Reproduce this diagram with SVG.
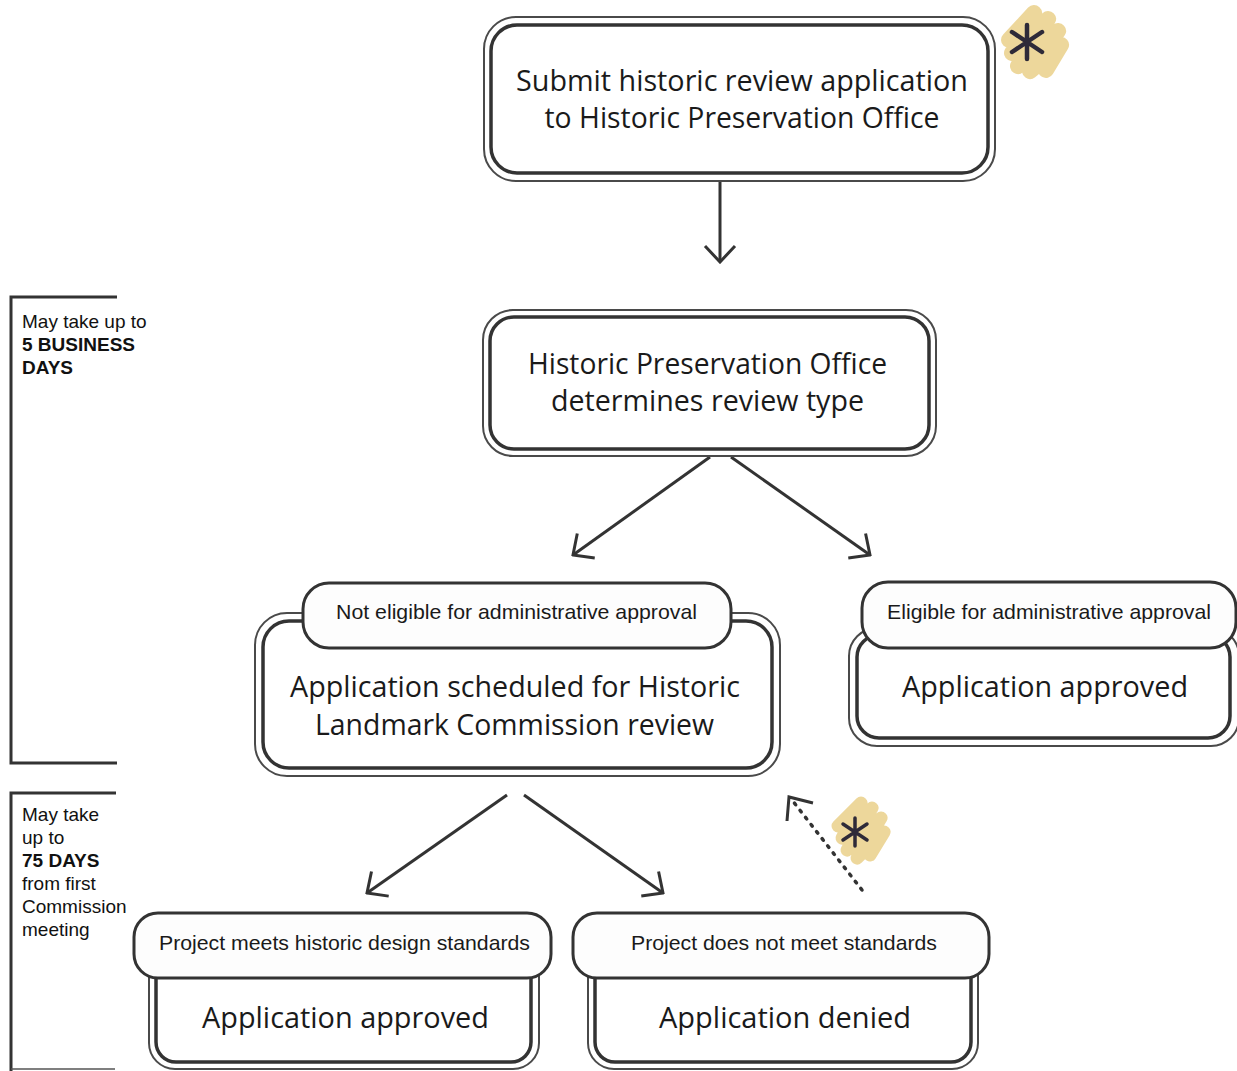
<svg xmlns="http://www.w3.org/2000/svg" width="1237" height="1071" viewBox="0 0 1237 1071">
<style>
.outer{fill:#fff;stroke:#4a4a4a;stroke-width:2}
.inner{fill:#fff;stroke:#333;stroke-width:3.5}
.tab{fill:#fdfdfd;stroke:#333;stroke-width:3}
.main{font-family:'Open Sans','Noto Sans',sans-serif;font-size:30px;fill:#1a1a1a;text-anchor:middle}
.small{font-family:'Liberation Sans',Arial,sans-serif;font-size:21px;fill:#1a1a1a;text-anchor:middle}
.note{font-family:'Liberation Sans',Arial,sans-serif;font-size:19px;fill:#111}
.b{font-weight:bold}
.conn{fill:none;stroke:#333;stroke-width:3}
.dotted{stroke-dasharray:2 7;stroke-linecap:round;stroke-width:3.5}
.bracket{fill:none;stroke:#333;stroke-width:3}
.blob{fill:none;stroke:#ecd596;stroke-linecap:round;stroke-linejoin:round;opacity:0.95}
.star{fill:none;stroke:#2e2a38;stroke-linecap:round}
</style>
<defs>
<marker id="chev" viewBox="0 0 20 34" refX="18" refY="17" markerWidth="20" markerHeight="34" markerUnits="userSpaceOnUse" orient="auto">
<path d="M2,2 L18,17 L2,32" fill="none" stroke="#333" stroke-width="3"/>
</marker>
</defs>

<g id="brackets">
<path class="bracket" d="M117,297 H11 V763 H117"/>
<text class="note" x="22" y="328">May take up to</text>
<text class="note b" x="22" y="351">5 BUSINESS</text>
<text class="note b" x="22" y="374">DAYS</text>
<path class="bracket" d="M116,793 H11 V1071"/>
<path d="M11,1069 H115" stroke="#555" stroke-width="1.5" fill="none"/>
<text class="note" x="22" y="821">May take</text>
<text class="note" x="22" y="844">up to</text>
<text class="note b" x="22" y="867">75 DAYS</text>
<text class="note" x="22" y="890">from first</text>
<text class="note" x="22" y="913">Commission</text>
<text class="note" x="22" y="936">meeting</text>
</g>

<g id="connectors">
<path class="conn" d="M720,181 V262" marker-end="url(#chev)"/>
<path class="conn" d="M710,457 L573,555" marker-end="url(#chev)"/>
<path class="conn" d="M731,457 L870,555" marker-end="url(#chev)"/>
<path class="conn" d="M507,795 L367,893" marker-end="url(#chev)"/>
<path class="conn" d="M524,795 L663,893" marker-end="url(#chev)"/>
<path class="conn dotted" d="M862,890 L792,800"/>
<path class="conn" d="M813,803 L789,797 L787,821"/>
</g>

<g id="submit">
<rect class="outer" x="484" y="17" width="511" height="164" rx="32"/>
<rect class="inner" x="491" y="25" width="497" height="148" rx="26"/>
<text class="main" x="742" y="91" textLength="452" lengthAdjust="spacingAndGlyphs">Submit historic review application</text>
<text class="main" x="742" y="128" textLength="395" lengthAdjust="spacingAndGlyphs">to Historic Preservation Office</text>
</g>

<g id="sticker1">
<path class="blob" stroke-width="16" d="M1009,40 L1034,13 L1012,53 L1048,19 L1018,66 L1058,31 L1030,71 L1061,45 L1046,70"/>
<path class="star" stroke-width="4.5" d="M1027,25 V59 M1012,32 L1042,52 M1042,32 L1012,52"/>
</g>

<g id="determine">
<rect class="outer" x="483" y="310" width="453" height="146" rx="30"/>
<rect class="inner" x="490" y="317" width="439" height="132" rx="24"/>
<text class="main" x="707.5" y="374" textLength="359" lengthAdjust="spacingAndGlyphs">Historic Preservation Office</text>
<text class="main" x="707.5" y="411" textLength="313" lengthAdjust="spacingAndGlyphs">determines review type</text>
</g>

<g id="scheduled">
<rect class="outer" x="255" y="613" width="525" height="163" rx="32"/>
<rect class="inner" x="263" y="621" width="509" height="147" rx="26"/>
<rect class="tab" x="303" y="583" width="428" height="65" rx="26"/>
<text class="small" x="516.5" y="618.5" textLength="361" lengthAdjust="spacingAndGlyphs">Not eligible for administrative approval</text>
<text class="main" x="515" y="697" textLength="450" lengthAdjust="spacingAndGlyphs">Application scheduled for Historic</text>
<text class="main" x="514.5" y="735" textLength="399" lengthAdjust="spacingAndGlyphs">Landmark Commission review</text>
</g>

<g id="approved-admin">
<rect class="outer" x="849" y="628" width="390" height="118" rx="28"/>
<rect class="inner" x="857" y="635" width="373" height="103" rx="22"/>
<rect class="tab" x="862" y="582" width="374" height="66" rx="26"/>
<text class="small" x="1049" y="618.5" textLength="324" lengthAdjust="spacingAndGlyphs">Eligible for administrative approval</text>
<text class="main" x="1045" y="697" textLength="286" lengthAdjust="spacingAndGlyphs">Application approved</text>
</g>

<g id="approved">
<rect class="outer" x="149" y="950" width="390" height="119" rx="26"/>
<rect class="inner" x="156" y="950" width="375" height="112" rx="20"/>
<rect class="tab" x="134" y="913" width="417" height="65" rx="24"/>
<text class="small" x="344.5" y="950" textLength="371" lengthAdjust="spacingAndGlyphs">Project meets historic design standards</text>
<text class="main" x="345.5" y="1028" textLength="287" lengthAdjust="spacingAndGlyphs">Application approved</text>
</g>

<g id="denied">
<rect class="outer" x="588" y="950" width="390" height="119" rx="26"/>
<rect class="inner" x="595" y="950" width="376" height="112" rx="20"/>
<rect class="tab" x="573" y="913" width="416" height="65" rx="24"/>
<text class="small" x="784" y="950" textLength="306" lengthAdjust="spacingAndGlyphs">Project does not meet standards</text>
<text class="main" x="785" y="1028" textLength="252" lengthAdjust="spacingAndGlyphs">Application denied</text>
</g>

<g id="sticker2">
<path class="blob" stroke-width="13" d="M838,826 L861,803 L842,838 L872,808 L847,850 L881,818 L857,858 L884,832 L870,855"/>
<path class="star" stroke-width="3.5" d="M855,818 V846 M843,824 L867,840 M867,824 L843,840"/>
</g>
</svg>
